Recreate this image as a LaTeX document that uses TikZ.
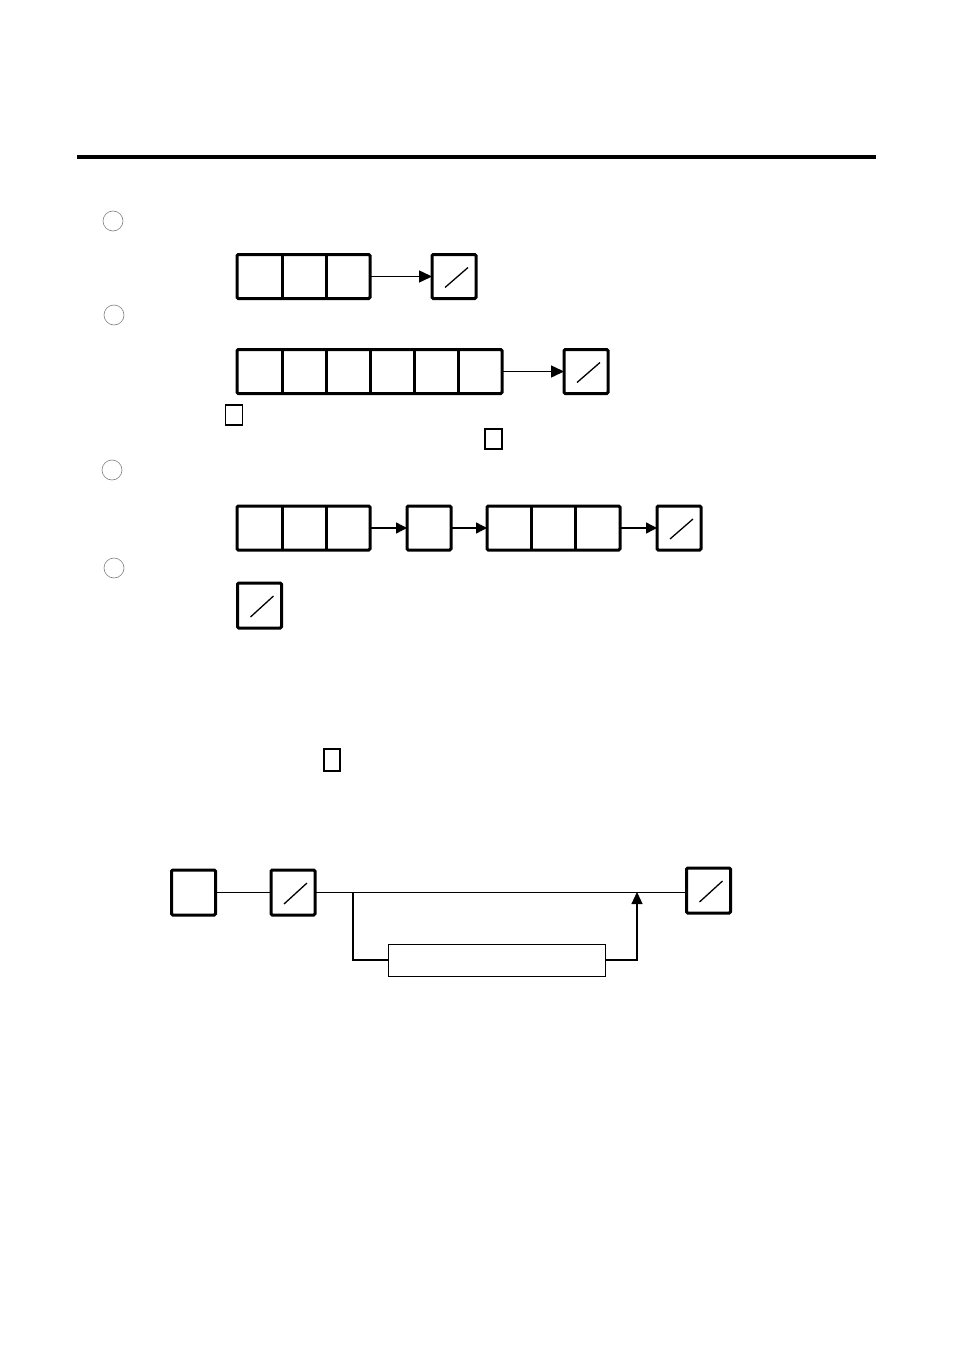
\documentclass[tikz,border=0pt]{standalone}
\usetikzlibrary{arrows.meta}
\begin{document}
\begin{tikzpicture}[x=1pt,y=-1pt,
  cell/.style={draw,line width=3pt,rounded corners=1.2pt,minimum width=44pt,minimum height=44pt,inner sep=0pt,outer sep=0pt},
  nilcell/.style={cell,path picture={
      \draw[line width=1.3pt] ([shift={(13pt,11pt)}]path picture bounding box.south west) -- ([shift={(-8pt,-13pt)}]path picture bounding box.north east);}},
  ringmark/.style={circle,draw=gray,line width=0.6pt,minimum size=20pt,inner sep=0pt},
  tofu/.style={draw,line width=1.3pt,inner sep=0pt},
  link/.style={line width=1.5pt,-{Triangle[length=13pt,width=12pt]}},
  slink/.style={line width=1.4pt,-{Triangle[length=11pt,width=11pt]}},
  wire/.style={line width=1.3pt}]
\useasboundingbox (0,0) rectangle (954,1351);
\draw[line width=3.2pt] (77,157) -- (876,157);
% markers
\node[ringmark] (m1) at (113,221) {};
\node[ringmark] (m2) at (114,315) {};
\node[ringmark] (m3) at (112,470) {};
\node[ringmark] (m4) at (114,568) {};
% row 1
\node[cell,minimum width=133pt] (r1) at (303.5,276.5) {};
\draw[line width=3pt] (282,255) -- (282,298) (326,255) -- (326,298);
\node[nilcell] (r1n) at (454,276.5) {};
\draw[link] (r1.east) -- (r1n.west);
% row 2
\node[cell,minimum width=265pt] (r2) at (369.5,371.5) {};
\foreach \x in {282,326,370,414,458} \draw[line width=3pt] (\x,349) -- (\x,394);
\node[nilcell] (r2n) at (586,371.5) {};
\draw[link] (r2.east) -- (r2n.west);
\node[tofu,minimum width=17pt,minimum height=20pt] (t1) at (234,415) {};
\node[tofu,minimum width=17pt,minimum height=20pt] (t2) at (493.5,439) {};
% row 3
\node[cell,minimum width=133pt] (r3a) at (303.5,528) {};
\draw[line width=3pt] (282,506) -- (282,550) (326,506) -- (326,550);
\node[cell] (r3b) at (429,528) {};
\node[cell,minimum width=133pt] (r3c) at (553.5,528) {};
\draw[line width=3pt] (531,506) -- (531,550) (575,506) -- (575,550);
\node[nilcell] (r3n) at (679,528) {};
\draw[slink] (r3a.east) -- (r3b.west);
\draw[slink] (r3b.east) -- (r3c.west);
\draw[slink] (r3c.east) -- (r3n.west);
% row 4
\node[nilcell,minimum height=45pt] (r4n) at (259.5,605.5) {};
\node[tofu,minimum width=16pt,minimum height=22pt] (t3) at (332,760) {};
% bottom
\node[cell,minimum height=45pt] (b1) at (193.5,892.5) {};
\node[nilcell,minimum height=45pt] (b2) at (293,892.5) {};
\node[nilcell,minimum height=45pt] (b3) at (708.5,890.5) {};
\node[draw,line width=0.8pt,minimum width=217pt,minimum height=32pt,inner sep=0pt] (b4) at (496.5,960) {};
\coordinate (j1) at (353,892);
\coordinate (j2) at (637,892);
\draw[wire] (b1.east) -- (b2.west);
\draw[wire] (b2.east) -- (b3.west |- b2.east);
\draw[wire] (j1) -- (j1 |- b4.west) -- (b4.west);
\draw[wire,-{Triangle[length=12pt,width=11pt]}] (b4.east) -- (j2 |- b4.east) -- (j2);
\end{tikzpicture}
\end{document}
